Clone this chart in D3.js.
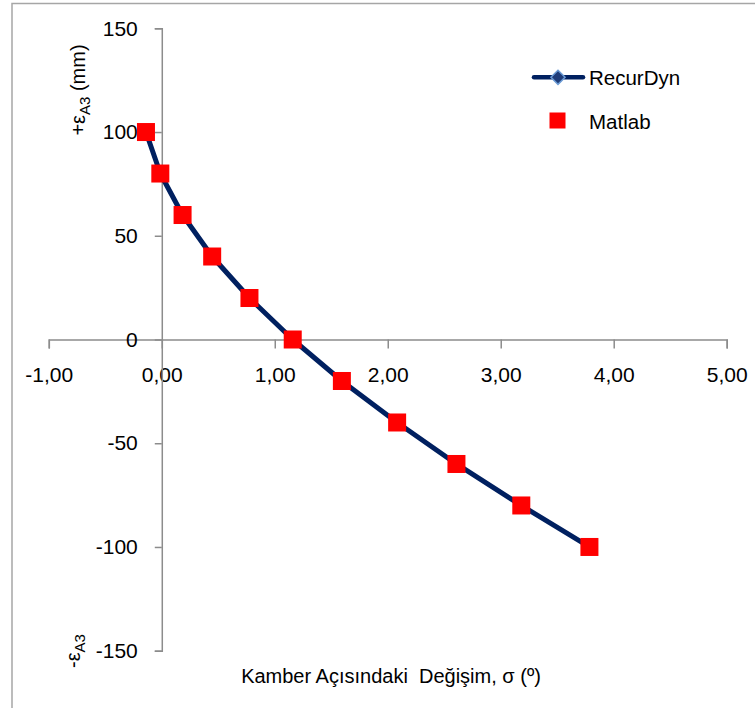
<!DOCTYPE html>
<html><head><meta charset="utf-8">
<script src="https://cdn.jsdelivr.net/npm/d3@7"></script>
<style>
html,body{margin:0;padding:0;background:#fff;}
text{font-family:"Liberation Sans",Arial,sans-serif;fill:#000;}
</style></head>
<body><svg id="c" width="755" height="708"></svg>
<script>
const xTicks = [-1, 0, 1, 2, 3, 4, 5];
const yTicks = [-150, -100, -50, 0, 50, 100, 150];
const recurDynSigma = [-0.14, -0.013, 0.184, 0.446, 0.776, 1.159, 1.594, 2.083, 2.608, 3.182, 3.785];
const recurDynEps   = [100, 80, 60, 40, 20, 0, -20, -40, -60, -80, -100];
const matlabSigma   = [-0.14, -0.013, 0.184, 0.446, 0.776, 1.159, 1.594, 2.083, 2.608, 3.182, 3.785];
const matlabEps     = [100, 80, 60, 40, 20, 0, -20, -40, -60, -80, -100];
const seriesNames = ["RecurDyn", "Matlab"];
const xTitle = "Kamber Açısındaki  Değişim, σ (º)";

const svg = d3.select("#c");
const x = d3.scaleLinear().domain([-1, 5]).range([48.8, 726.7]);
const y = d3.scaleLinear().domain([-150, 150]).range([650.7, 28.3]);
const axisCol = "#8c8c8c";
const FS = 21;

// outer border
svg.append("rect").attr("x", 12).attr("y", 3.5).attr("width", 900).attr("height", 900)
  .attr("fill", "none").attr("stroke", "#a6a6a6").attr("stroke-width", 1.5);

// x axis
const gx = svg.append("g").attr("transform", `translate(0,${y(0)})`)
  .call(d3.axisBottom(x).tickValues(xTicks).tickSizeInner(9).tickSizeOuter(9)
    .tickFormat(d => d3.format(".2f")(d).replace(".", ",").replace("\u2212", "-")).tickPadding(19));
gx.selectAll("path,line").attr("stroke", axisCol).attr("stroke-width", 1.5);
gx.selectAll("text").attr("font-size", FS).attr("font-family", "Liberation Sans, Arial, sans-serif").attr("fill", "#000");

// y axis
const gy = svg.append("g").attr("transform", `translate(${x(0)},0)`)
  .call(d3.axisLeft(y).tickValues(yTicks).tickSizeInner(7).tickSizeOuter(7).tickPadding(17)
    .tickFormat(d => String(d)));
gy.selectAll("path,line").attr("stroke", axisCol).attr("stroke-width", 1.5);
gy.selectAll("text").attr("font-size", FS).attr("font-family", "Liberation Sans, Arial, sans-serif").attr("fill", "#000");

// RecurDyn line
const pts = recurDynSigma.map((s, i) => [s, recurDynEps[i]]);
svg.append("path").datum(pts)
  .attr("d", d3.line().x(d => x(d[0])).y(d => y(d[1])))
  .attr("fill", "none").attr("stroke", "#002060").attr("stroke-width", 5)
  .attr("stroke-linejoin", "round").attr("stroke-linecap", "round");
svg.selectAll(".dia").data(pts).enter().append("path")
  .attr("transform", d => `translate(${x(d[0])},${y(d[1])}) rotate(45)`)
  .attr("d", "M-4,-4H4V4H-4Z").attr("fill", "#1f3c78").attr("stroke", "#6a9ad4").attr("stroke-width", 1);

// Matlab squares
const mpts = matlabSigma.map((s, i) => [s, matlabEps[i]]);
const sq = 18;
svg.selectAll(".sq").data(mpts).enter().append("rect")
  .attr("x", d => x(d[0]) - sq / 2).attr("y", d => y(d[1]) - sq / 2)
  .attr("width", sq).attr("height", sq).attr("fill", "#ff0000");

// legend
const lg = svg.append("g");
lg.append("line").attr("x1", 534).attr("x2", 583).attr("y1", 77.3).attr("y2", 77.3)
  .attr("stroke", "#002060").attr("stroke-width", 4.5).attr("stroke-linecap", "round");
lg.append("path").attr("transform", "translate(558,77.3) rotate(45)")
  .attr("d", "M-5,-5H5V5H-5Z").attr("fill", "#1f3c78").attr("stroke", "#6a9ad4").attr("stroke-width", 1.5);
lg.append("text").attr("x", 589).attr("y", 85).attr("font-size", 20.5).text(seriesNames[0]);
lg.append("text").attr("x", 589).attr("y", 128.5).attr("font-size", 20.5).text(seriesNames[1]);
lg.append("rect").attr("x", 549.5).attr("y", 112.5).attr("width", 16).attr("height", 16).attr("fill", "#ff0000");

// x title
svg.append("text").attr("x", 391).attr("y", 683).attr("text-anchor", "middle")
  .attr("font-size", 20).style("white-space", "pre").text(xTitle);

// y labels
const yl = svg.append("text").attr("transform", "translate(85,90) rotate(-90)")
  .attr("text-anchor", "middle").attr("font-size", 20);
yl.append("tspan").text("+ε");
yl.append("tspan").attr("font-size", 15).attr("dy", 5).text("A3");
yl.append("tspan").attr("dy", -5).text(" (mm)");

const yl2 = svg.append("text").attr("transform", "translate(80,651) rotate(-90)")
  .attr("text-anchor", "middle").attr("font-size", 20);
yl2.append("tspan").text("-ε");
yl2.append("tspan").attr("font-size", 15).attr("dy", 5).text("A3");
</script></body></html>
